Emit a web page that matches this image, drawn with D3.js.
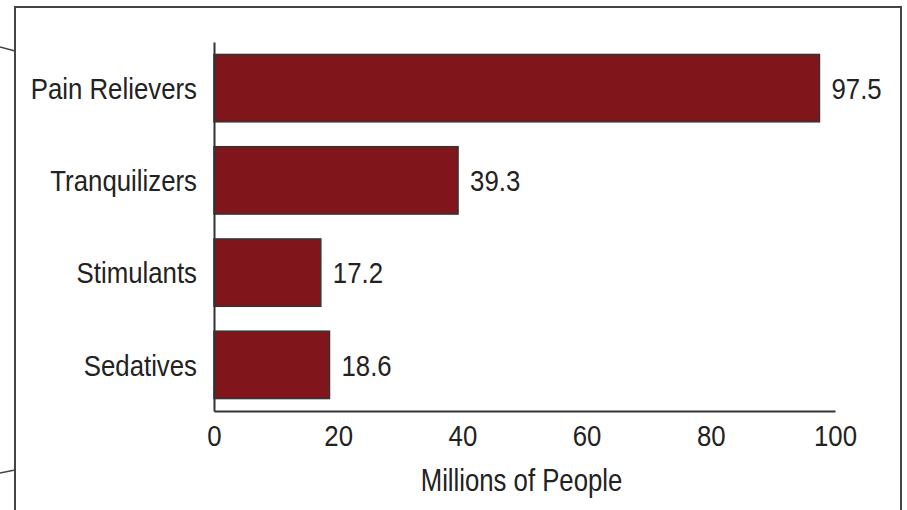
<!DOCTYPE html>
<html>
<head>
<meta charset="utf-8">
<script src="https://cdn.jsdelivr.net/npm/d3@7"></script>
<style>
  body { margin: 0; background: #fff; }
  text { font-family: "Liberation Sans", Arial, sans-serif; fill: #222; font-size: 30px; }
</style>
</head>
<body>
<div id="chart"></div>
<script>
// Chart data
const categories = ["Pain Relievers", "Tranquilizers", "Stimulants", "Sedatives"];
const values = [97.5, 39.3, 17.2, 18.6];
const xTicks = [0, 20, 40, 60, 80, 100];
const xTitle = "Millions of People";

const W = 907, H = 510;
const SX = 0.86; // squeeze text to look like a condensed face

const svg = d3.select("#chart").append("svg")
    .attr("width", W)
    .attr("height", H);

// Frame around the figure (bottom runs off the page)
svg.append("path")
    .attr("d", "M15,530 L15,7 L901,7 L901,530")
    .attr("fill", "none")
    .attr("stroke", "#444")
    .attr("stroke-width", 2);

// little connector lines on the left edge
svg.append("line").attr("x1", 0).attr("y1", 47).attr("x2", 15).attr("y2", 51)
    .attr("stroke", "#444").attr("stroke-width", 1.5);
svg.append("line").attr("x1", 0).attr("y1", 473).attr("x2", 15).attr("y2", 470)
    .attr("stroke", "#444").attr("stroke-width", 1.5);

// Scales
const x = d3.scaleLinear().domain([0, 100]).range([214, 835]);
const y = d3.scaleBand().domain(categories).range([42, 411])
    .paddingInner(0.27).paddingOuter(0.135);

// Bars
svg.selectAll(".bar")
    .data(categories)
    .enter().append("rect")
    .attr("class", "bar")
    .attr("x", x(0))
    .attr("y", d => y(d))
    .attr("width", (d, i) => x(values[i]) - x(0))
    .attr("height", y.bandwidth())
    .attr("fill", "#80161b")
    .attr("stroke", "#333")
    .attr("stroke-width", 1.5);

// Value labels
svg.selectAll(".val")
    .data(categories)
    .enter().append("text")
    .attr("class", "val")
    .attr("transform", (d, i) => "translate(" + (x(values[i]) + 12) + "," + (y(d) + y.bandwidth() / 2) + ") scale(" + SX + ",1)")
    .attr("dy", "0.36em")
    .text((d, i) => values[i].toFixed(1));

// Category labels
svg.selectAll(".cat")
    .data(categories)
    .enter().append("text")
    .attr("class", "cat")
    .attr("transform", d => "translate(197," + (y(d) + y.bandwidth() / 2) + ") scale(" + SX + ",1)")
    .attr("dy", "0.36em")
    .attr("text-anchor", "end")
    .text(d => d);

// Axes
const xAxis = svg.append("g")
    .attr("transform", "translate(0,411)")
    .call(d3.axisBottom(x).tickValues(xTicks).tickSize(0).tickPadding(14));
xAxis.attr("font-size", null).attr("font-family", null);
xAxis.select(".domain").attr("stroke", "#333").attr("stroke-width", 2);
xAxis.selectAll(".tick text")
    .attr("fill", "#222")
    .attr("transform", "scale(" + SX + ",1)");

const yAxis = svg.append("g")
    .attr("transform", "translate(214,0)")
    .call(d3.axisLeft(y).tickSize(0).tickFormat(""));
yAxis.select(".domain").attr("stroke", "#333").attr("stroke-width", 2);

// Axis title
svg.append("text")
    .attr("transform", "translate(" + ((x(0) + x(100)) / 2 - 3) + ",491) scale(0.83,1)")
    .attr("text-anchor", "middle")
    .style("font-size", "31px")
    .text(xTitle);
</script>
</body>
</html>
